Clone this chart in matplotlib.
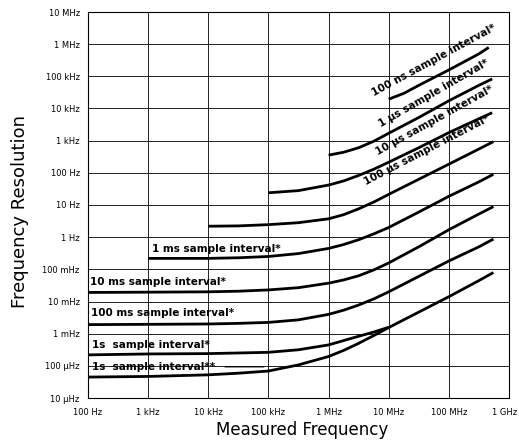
import numpy as np
import matplotlib
matplotlib.use("Agg")
import matplotlib.pyplot as plt
import matplotlib.transforms as mtransforms

# ======================================================
# DATI (letti dal grafico) - frequenza misurata [Hz] / risoluzione [Hz]
# ======================================================
f_100ns = [1e7, 1.78e7, 3.16e7, 1e8, 3.16e8, 4.6e8]
r_100ns = [1.95e4, 2.95e4, 5.25e4, 1.58e5, 5.0e5, 7.9e5]

f_1us = [1e6, 1.78e6, 3.16e6, 5.62e6, 1e7, 3.16e7, 1e8, 3.16e8, 5.25e8]
r_1us = [355, 437, 603, 955, 1.70e3, 5.25e3, 1.74e4, 5.25e4, 8.3e4]

f_10us = [1e5, 3.16e5, 1e6, 1.78e6, 3.16e6, 5.62e6, 1e7, 3.16e7, 1e8, 3.16e8, 5.25e8]
r_10us = [24, 28, 41.7, 56, 83, 129, 214, 603, 1.78e3, 4.8e3, 7.4e3]

f_100us = [1e4, 3.16e4, 1e5, 3.16e5, 1e6, 1.78e6, 3.16e6, 5.62e6, 1e7, 3.16e7,
           1e8, 3.16e8, 5.5e8]
r_100us = [2.19, 2.24, 2.45, 2.82, 3.72, 5.0, 7.6, 12.3, 21.4, 63, 186, 550, 933]

f_1ms = [1e3, 1e4, 3.16e4, 1e5, 3.16e5, 1e6, 1.78e6, 3.16e6, 5.62e6, 1e7, 3.16e7,
         1e8, 3.16e8, 5.5e8]
r_1ms = [0.219, 0.219, 0.229, 0.251, 0.309, 0.447, 0.589, 0.832, 1.26, 2.0, 6.03,
         18.6, 52.5, 90]

f_lungo = [1e2, 1e3, 1e4, 3.16e4, 1e5, 3.16e5, 1e6, 1.78e6, 3.16e6, 5.62e6, 1e7,
           3.16e7, 1e8, 3.16e8, 5.5e8]
r_10ms = [0.0191, 0.0195, 0.0200, 0.0209, 0.0229, 0.0269, 0.0372, 0.0468, 0.0631,
          0.0955, 0.158, 0.501, 1.70, 5.25, 8.9]
r_100ms = [1.91e-3, 1.95e-3, 2.0e-3, 2.09e-3, 2.24e-3, 2.69e-3, 3.98e-3, 5.37e-3,
           7.76e-3, 0.0120, 0.0200, 0.0603, 0.182, 0.501, 0.871]
r_1s_b = [4.47e-5, 4.68e-5, 5.25e-5, 5.9e-5, 6.9e-5, 1.07e-4, 1.95e-4, 3.02e-4,
          5.0e-4, 8.7e-4, 1.55e-3, 4.68e-3, 0.0141, 0.0447, 0.0794]

f_1s_a = [1e2, 1e3, 1e4, 3.16e4, 1e5, 3.16e5, 1e6, 3.16e6, 5.62e6, 1e7]
r_1s_a = [2.19e-4, 2.34e-4, 2.40e-4, 2.51e-4, 2.63e-4, 3.16e-4, 4.47e-4, 8.3e-4,
          1.12e-3, 1.58e-3]

x_ticks = [1e2, 1e3, 1e4, 1e5, 1e6, 1e7, 1e8, 1e9]
x_labels = ["100 Hz", "1 kHz", "10 kHz", "100 kHz", "1 MHz", "10 MHz", "100 MHz", "1 GHz"]
y_ticks = [1e-5, 1e-4, 1e-3, 1e-2, 1e-1, 1, 10, 1e2, 1e3, 1e4, 1e5, 1e6, 1e7]
y_labels = ["10 µHz", "100 µHz", "1 mHz", "10 mHz", "100 mHz", "1 Hz", "10 Hz",
            "100 Hz", "1 kHz", "10 kHz", "100 kHz", "1 MHz", "10 MHz"]

# ======================================================
# GRAFICO
# ======================================================
fig = plt.figure(figsize=(5.19, 4.43), dpi=100)
ax = fig.add_axes([88/519, 45/443, 421/519, 386/443])
ax.set_xscale("log")
ax.set_yscale("log")
ax.set_xlim(1e2, 1e9)
ax.set_ylim(1e-5, 1e7)

ax.set_xticks(x_ticks)
ax.set_xticklabels(x_labels)
ax.set_yticks(y_ticks)
ax.set_yticklabels(y_labels)
ax.minorticks_off()
ax.tick_params(length=0, labelsize=6, colors="black")
ax.tick_params(axis="x", pad=7)
ax.tick_params(axis="y", pad=6)
ax.grid(True, color="#222222", lw=0.7)
for s in ax.spines.values():
    s.set_linewidth(0.8)

# ultima etichetta (1 GHz) un po' a sinistra, come nell'originale
ultima = ax.get_xticklabels()[-1]
ultima.set_transform(ultima.get_transform() +
                     mtransforms.ScaledTranslation(-4/100, 0, fig.dpi_scale_trans))

curve = dict(color="black", lw=2.0, solid_capstyle="butt", solid_joinstyle="round")
ax.plot(f_100ns, r_100ns, **curve)
ax.plot(f_1us, r_1us, **curve)
ax.plot(f_10us, r_10us, **curve)
ax.plot(f_100us, r_100us, **curve)
ax.plot(f_1ms, r_1ms, **curve)
ax.plot(f_lungo, r_10ms, **curve)
ax.plot(f_lungo, r_100ms, **curve)
ax.plot(f_lungo, r_1s_b, **curve)
ax.plot(f_1s_a, r_1s_a, **curve)

# etichette delle curve
lab = dict(fontsize=7.5, fontweight="bold", color="black")
rot = dict(ha="center", va="center", rotation_mode="anchor", **lab)
ax.text(10**7.757, 10**5.51, "100 ns sample interval*", rotation=28.5, **rot)
ax.text(10**7.757, 10**4.48, "1 µs sample interval*", rotation=30, **rot)
ax.text(10**7.757, 10**3.64, "10 µs sample interval*", rotation=29, **rot)
ax.text(10**7.624, 10**2.71, "100 µs sample interval*", rotation=27.5, **rot)

ax.text(10**3.065, 10**-0.376, "1 ms sample interval*", ha="left", va="center", **lab)
ax.text(10**2.033, 10**-1.383, "10 ms sample interval*", ha="left", va="center", **lab)
ax.text(10**2.045, 10**-2.366, "100 ms sample interval*", ha="left", va="center", **lab)
ax.text(10**2.06, 10**-3.351, "1s  sample interval*", ha="left", va="center", **lab)
ax.text(10**2.06, 10**-4.026, "1s  sample interval**", ha="left", va="center", **lab)
ax.annotate("", xy=(10**4.97, 10**-4.03), xytext=(10**4.23, 10**-4.03),
            arrowprops=dict(arrowstyle="-", lw=0.9, color="black"))

ax.set_xlabel("Measured Frequency", fontsize=12, va="center")
ax.set_ylabel("Frequency Resolution", fontsize=13, va="center")
ax.xaxis.set_label_coords(0.508, -0.083)
ax.yaxis.set_label_coords(-0.1615, 0.483)

fig.savefig("out.png", dpi=100)
